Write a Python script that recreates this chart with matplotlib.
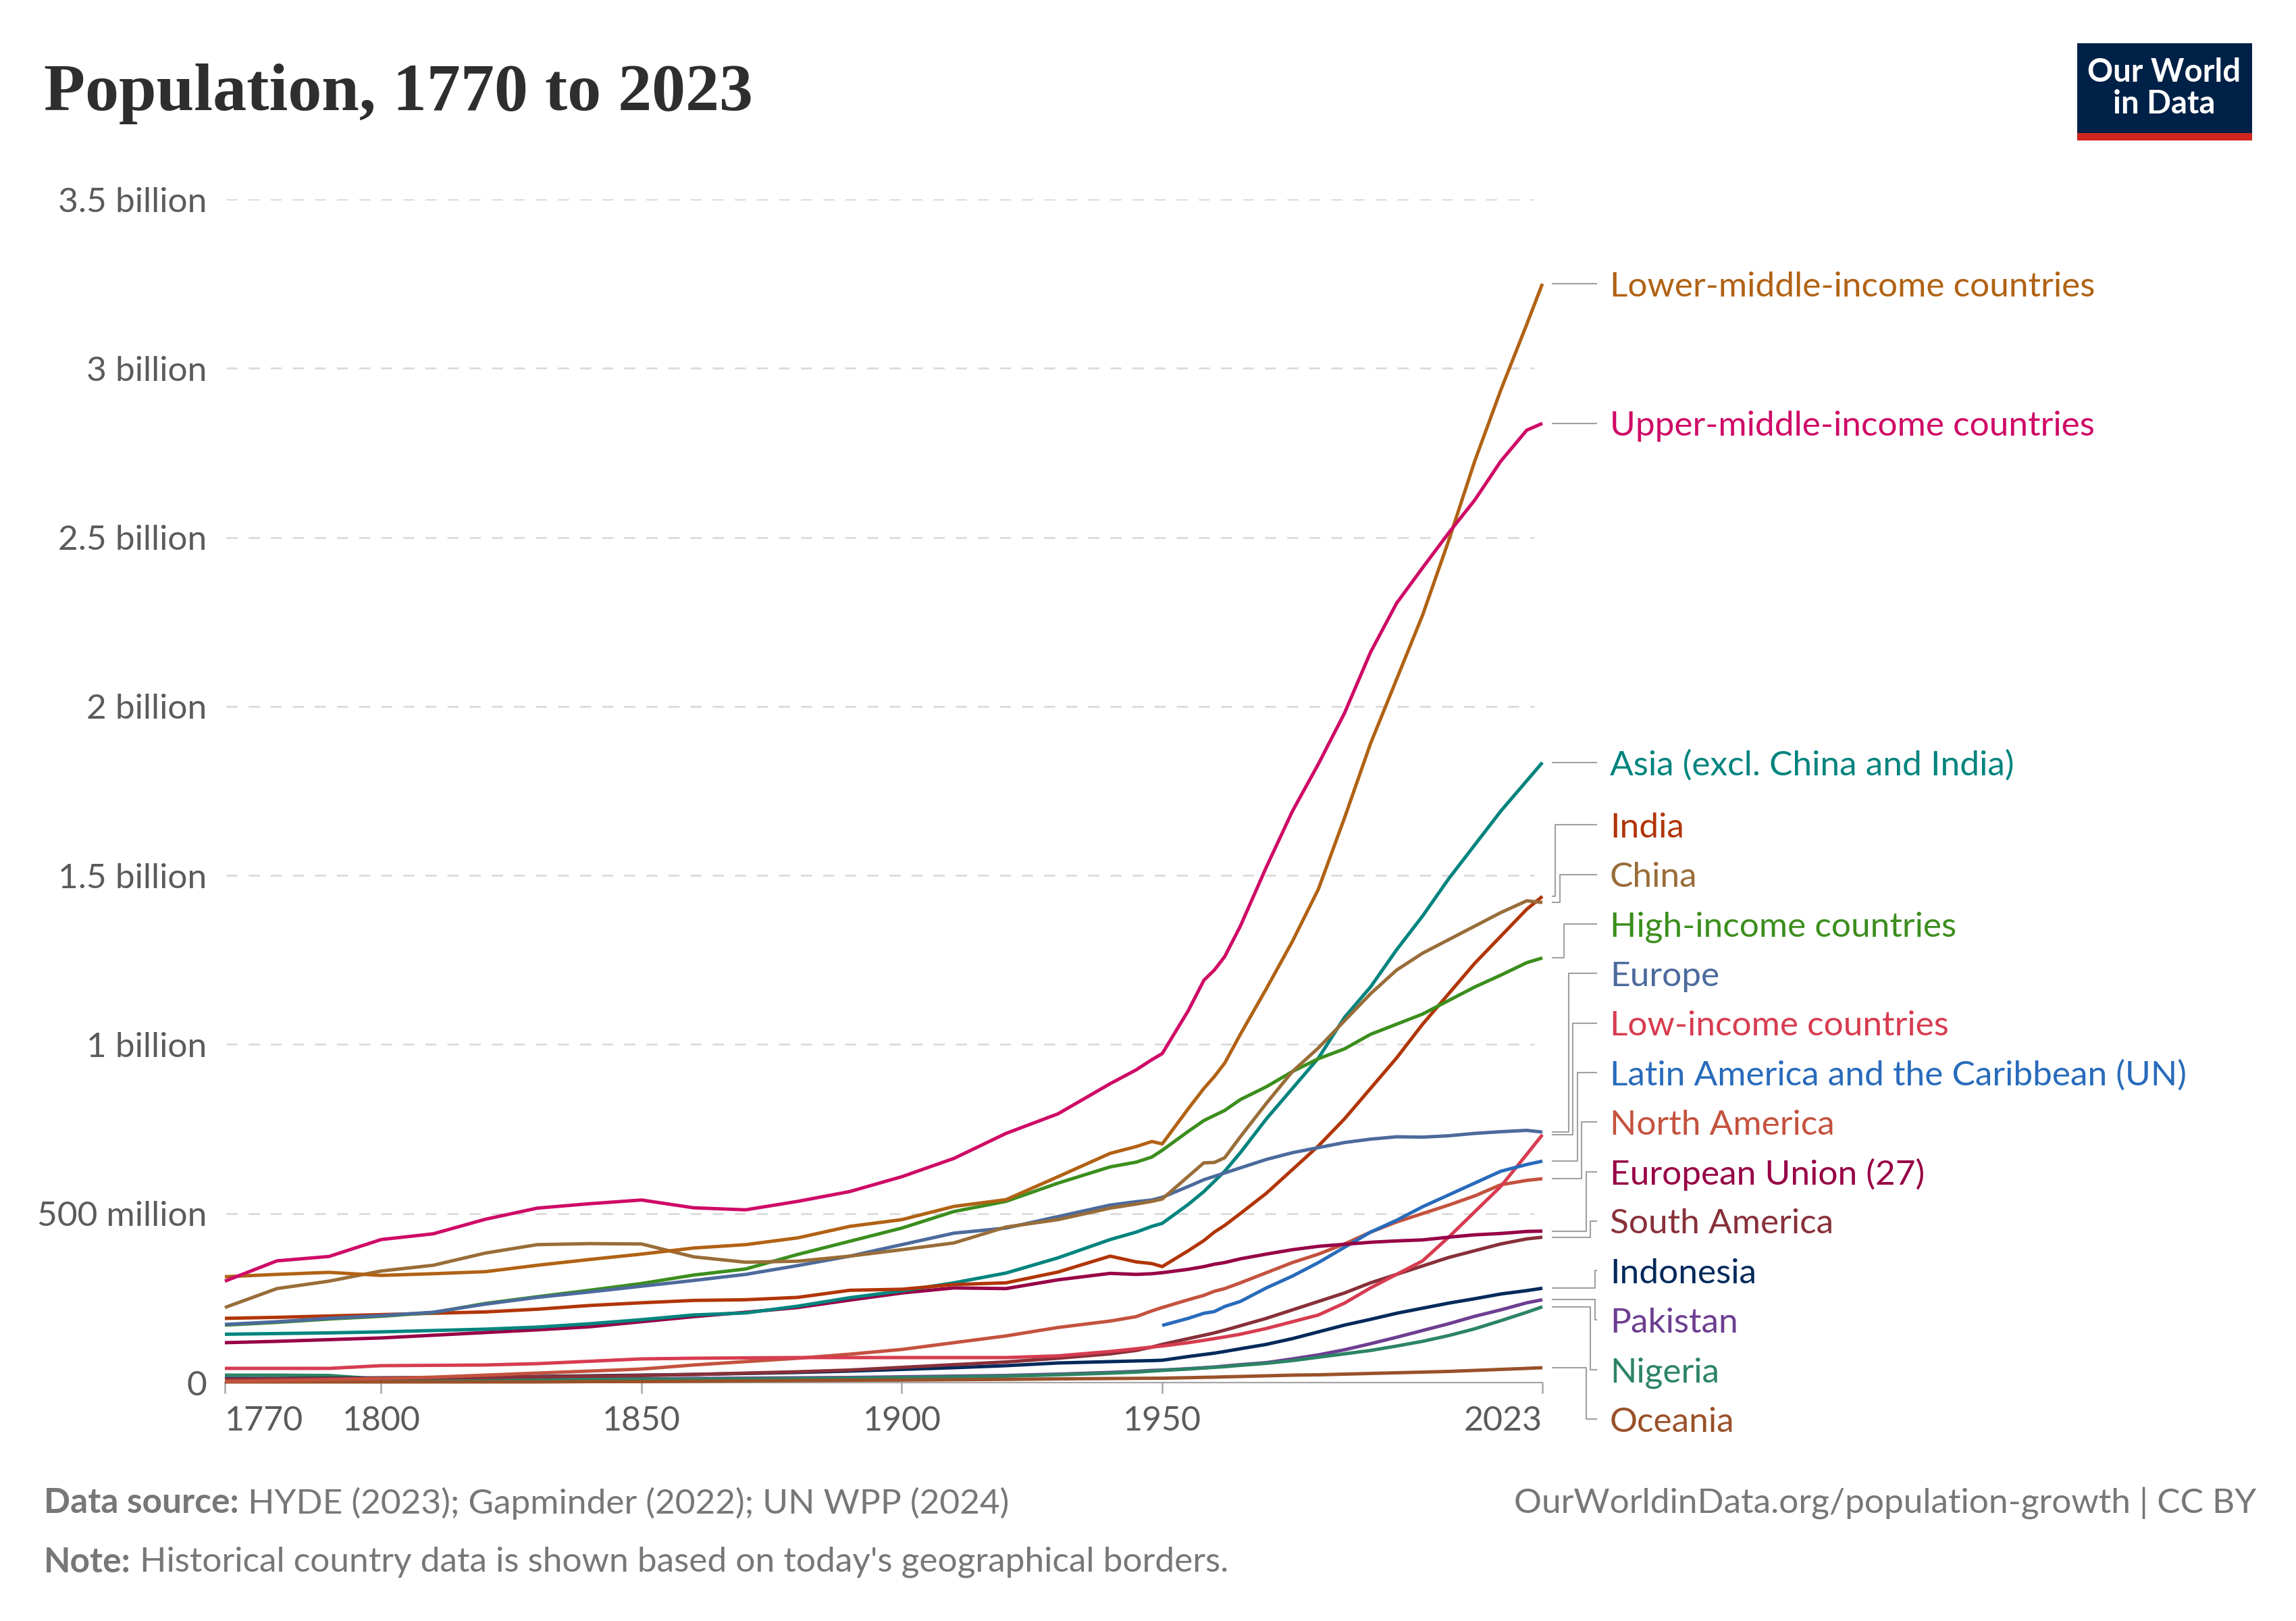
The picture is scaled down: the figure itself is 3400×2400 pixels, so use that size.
import numpy as np
import matplotlib.pyplot as plt
from matplotlib.patches import Rectangle
from matplotlib.transforms import blended_transform_factory

# population in billions
years = [1770, 1780, 1790, 1800, 1810, 1820, 1830, 1840, 1850, 1860, 1870, 1880, 1890,
         1900, 1910, 1920, 1930, 1940, 1945, 1948, 1950, 1955, 1958, 1960, 1962, 1965,
         1970, 1975, 1980, 1985, 1990, 1995, 2000, 2005, 2010, 2015, 2020, 2023]

lower_middle = [.313, .320, .326, .317, .322, .328, .347, .364, .380, .398, .408, .428, .462,
                .482, .521, .541, .609, .678, .698, .713, .706, .81, .87, .905, .945, 1.03,
                1.165, 1.305, 1.46, 1.67, 1.89, 2.08, 2.27, 2.49, 2.725, 2.935, 3.13, 3.25]
upper_middle = [.300, .360, .373, .423, .440, .483, .516, .529, .540, .517, .511, .536, .565,
                .609, .663, .737, .795, .884, .925, .955, .973, 1.10, 1.19, 1.22, 1.26, 1.35,
                1.525, 1.69, 1.83, 1.98, 2.16, 2.305, 2.41, 2.513, 2.61, 2.725, 2.817, 2.837]
asia_excl = [.143, .145, .147, .150, .154, .158, .164, .174, .186, .200, .206, .226, .251,
             .271, .295, .324, .369, .423, .445, .462, .471, .527, .565, .595, .625, .68,
             .78, .87, .96, 1.08, 1.17, 1.28, 1.38, 1.49, 1.59, 1.69, 1.78, 1.834]
india = [.190, .193, .197, .201, .205, .209, .217, .228, .236, .243, .245, .252, .273,
         .276, .290, .295, .327, .374, .357, .352, .343, .39, .42, .445, .465, .50,
         .56, .63, .70, .78, .87, .96, 1.06, 1.15, 1.24, 1.32, 1.40, 1.438]
china = [.222, .278, .300, .330, .347, .383, .408, .411, .410, .372, .356, .359, .374,
         .393, .413, .460, .482, .516, .528, .536, .543, .61, .65, .651, .665, .727,
         .826, .92, .99, 1.07, 1.15, 1.22, 1.27, 1.31, 1.35, 1.39, 1.425, 1.42]
high_income = [.170, .178, .188, .196, .207, .234, .254, .273, .293, .318, .336, .379, .418,
               .457, .506, .536, .590, .638, .652, .667, .687, .743, .775, .79, .805, .837,
               .875, .92, .958, .987, 1.03, 1.06, 1.09, 1.13, 1.17, 1.205, 1.242, 1.256]
europe = [.172, .180, .190, .198, .208, .232, .252, .268, .285, .302, .320, .346, .374,
          .408, .442, .457, .491, .525, .535, .540, .548, .58, .60, .61, .62, .635,
          .66, .68, .695, .71, .72, .727, .726, .73, .737, .742, .746, .741]
low_income = [.042, .042, .042, .050, .051, .052, .056, .063, .070, .072, .073, .074, .074,
              .074, .074, .074, .079, .092, .100, .105, .108, .118, .125, .13, .135, .143,
              .16, .18, .20, .235, .28, .32, .36, .43, .505, .58, .675, .733]
latin_america = [np.nan] * 20 + [.169, .19, .205, .21, .225, .24,
                                 .28, .315, .355, .40, .445, .48, .52, .555, .59, .625, .645, .655]
north_america = [.004, .006, .009, .012, .016, .022, .028, .034, .040, .052, .062, .072, .084,
                 .098, .118, .138, .163, .182, .195, .212, .222, .245, .258, .27, .278, .295,
                 .325, .355, .38, .41, .445, .475, .50, .525, .552, .585, .598, .603]
eu27 = [.118, .122, .127, .132, .140, .148, .156, .165, .180, .195, .208, .222, .244,
        .265, .280, .278, .304, .323, .320, .322, .325, .335, .343, .35, .355, .366,
        .38, .393, .403, .409, .415, .419, .422, .43, .437, .441, .447, .448]
south_america = [.010, .011, .012, .013, .014, .015, .017, .019, .021, .024, .028, .032, .037,
                 .045, .053, .061, .072, .085, .095, .105, .113, .13, .14, .147, .155, .168,
                 .19, .215, .24, .265, .295, .32, .345, .37, .39, .41, .425, .43]
indonesia = [.012, .012, .013, .014, .015, .016, .018, .020, .022, .024, .027, .030, .034,
             .039, .044, .050, .058, .062, .064, .065, .066, .077, .083, .087, .092, .10,
             .113, .13, .15, .17, .187, .205, .22, .235, .248, .262, .272, .279]
pakistan = [.008, .008, .009, .009, .009, .010, .010, .011, .011, .012, .013, .014, .015,
            .017, .019, .021, .025, .030, .033, .036, .037, .041, .044, .046, .049, .053,
            .059, .07, .082, .097, .115, .134, .154, .174, .196, .215, .236, .245]
nigeria = [.022, .022, .021, .010, .010, .010, .010, .010, .010, .010, .011, .012, .013,
           .015, .017, .019, .023, .028, .031, .034, .036, .040, .043, .045, .047, .051,
           .057, .065, .075, .085, .095, .108, .122, .139, .159, .183, .208, .224]
oceania = [.002, .002, .002, .002, .002, .002, .002, .003, .003, .004, .005, .006, .007,
           .0075, .0085, .0095, .011, .012, .0125, .0128, .013, .0145, .0155, .016, .017, .018,
           .020, .022, .023, .025, .027, .029, .031, .033, .036, .039, .042, .044]

# drawing order: first entry is drawn underneath
series = [
    ("Pakistan", pakistan, "#6D3E91"),
    ("Nigeria", nigeria, "#2C8465"),
    ("Oceania", oceania, "#9A5129"),
    ("Indonesia", indonesia, "#00295B"),
    ("South America", south_america, "#883039"),
    ("North America", north_america, "#C4523E"),
    ("Low-income countries", low_income, "#D73C50"),
    ("Latin America and the Caribbean (UN)", latin_america, "#286BBB"),
    ("European Union (27)", eu27, "#970046"),
    ("Asia (excl. China and India)", asia_excl, "#00847E"),
    ("India", india, "#B13507"),
    ("High-income countries", high_income, "#3B8E1D"),
    ("Europe", europe, "#4C6A9C"),
    ("China", china, "#996D39"),
    ("Lower-middle-income countries", lower_middle, "#B16214"),
    ("Upper-middle-income countries", upper_middle, "#CF0A66"),
]

y_ticks = [0, 0.5, 1, 1.5, 2, 2.5, 3, 3.5]
y_tick_labels = ["0", "500 million", "1 billion", "1.5 billion", "2 billion",
                 "2.5 billion", "3 billion", "3.5 billion"]
x_ticks = [1770, 1800, 1850, 1900, 1950, 2023]

plt.rcParams['font.family'] = ['Lato', 'DejaVu Sans']

W, H, DPI = 3400, 2400, 100
fig = plt.figure(figsize=(W / DPI, H / DPI), dpi=DPI)
fig.patch.set_facecolor('white')

left, right, bottom, top = 333, 2284, 2047, 295
ax = fig.add_axes([left / W, 1 - bottom / H, (right - left) / W, (bottom - top) / H])
ax.set_xlim(1770, 2023)
ax.set_ylim(0, 3.5)
for s in ax.spines.values():
    s.set_visible(False)

# grid
for t in y_ticks[1:]:
    ax.axhline(t, xmin=0.001, xmax=0.994, color='#d9d9d9', lw=1.9,
               linestyle=(0, (6.2, 6.2)), zorder=0)
ax.axhline(0, color='#a6a6a6', lw=1.6, zorder=1, clip_on=False)

ax.set_yticks(y_ticks)
ax.set_yticklabels(y_tick_labels)
ax.tick_params(axis='y', length=0, pad=19, labelsize=37, labelcolor='#5b5b5b')
ax.set_xticks(x_ticks)
ax.set_xticklabels([str(x) for x in x_ticks])
ax.tick_params(axis='x', length=11.5, width=1.8, color='#a6a6a6', pad=13,
               labelsize=36, labelcolor='#5b5b5b')
xl = ax.get_xticklabels()
xl[0].set_ha('left')
xl[-1].set_ha('right')

for name, vals, col in series:
    ax.plot(years, vals, color=col, lw=3.6, solid_joinstyle='round',
            solid_capstyle='butt', clip_on=False, zorder=2)

# end labels with simple dodge
px_per_unit = (bottom - top) / 3.5
gap = 73.3 / px_per_unit
floor = -54 / px_per_unit
ends = sorted([(vals[-1], name, col) for name, vals, col in series], reverse=True)
pos = [e[0] for e in ends]
for i in range(1, len(pos)):
    pos[i] = min(pos[i], pos[i - 1] - gap)
pos[-1] = max(pos[-1], floor)
for i in range(len(pos) - 2, -1, -1):
    pos[i] = max(pos[i], pos[i + 1] + gap)

axw = right - left
tr = blended_transform_factory(ax.transAxes, ax.transData)
up = [i for i in range(len(ends)) if pos[i] - ends[i][0] > 1e-4]
down = [i for i in range(len(ends)) if ends[i][0] - pos[i] > 1e-4]
for i, (v, name, col) in enumerate(ends):
    x0 = 1 + 15 / axw
    x1 = 1 + 80 / axw
    if i in up:
        rank = up.index(i)
    elif i in down:
        rank = len(up) - 1 - down.index(i)
    else:
        rank = None
    if rank is None:
        xs, ys = [x0, x1], [v, v]
    else:
        xe = 1 + (19 + 6.5 * rank) / axw
        xs, ys = [x0, xe, xe, x1], [v, v, pos[i], pos[i]]
    ax.plot(xs, ys, color='#a0a0a0', lw=1.5, transform=tr, clip_on=False, zorder=1)
    ax.text(1 + 100 / axw, pos[i], name, color=col, fontsize=37, transform=tr,
            va='center_baseline', ha='left')

# title
fig.text(65 / W, 1 - 163 / H, "Population, 1770 to 2023", fontsize=72, fontweight='bold',
         family=['Liberation Serif', 'DejaVu Serif'], color='#2e2e2e', va='baseline')

# logo
fig.add_artist(Rectangle((3076 / W, 1 - 197 / H), 259 / W, 133 / H,
                         transform=fig.transFigure, color='#002147', lw=0))
fig.add_artist(Rectangle((3076 / W, 1 - 208 / H), 259 / W, 11 / H,
                         transform=fig.transFigure, color='#CE261E', lw=0))
fig.text(3205 / W, 1 - 107 / H, "Our World", color='white', fontsize=34, fontweight='bold',
         ha='center', va='center')
fig.text(3205 / W, 1 - 154 / H, "in Data", color='white', fontsize=34, fontweight='bold',
         ha='center', va='center')

# footer
grey = '#777777'
fs = 37
r = fig.canvas.get_renderer()
t1 = fig.text(65 / W, 1 - 2226 / H, "Data source:", fontsize=fs, fontweight='bold',
              color=grey, va='center')
bb = t1.get_window_extent(renderer=r)
fig.text(bb.x1 / W, 1 - 2226 / H, " HYDE (2023); Gapminder (2022); UN WPP (2024)",
         fontsize=fs, color=grey, va='center')
t2 = fig.text(65 / W, 1 - 2313 / H, "Note:", fontsize=fs, fontweight='bold',
              color=grey, va='center')
bb = t2.get_window_extent(renderer=r)
fig.text(bb.x1 / W, 1 - 2313 / H, " Historical country data is shown based on today's geographical borders.",
         fontsize=fs, color=grey, va='center')
fig.text(3341 / W, 1 - 2226 / H, "OurWorldinData.org/population-growth | CC BY",
         fontsize=fs, color=grey, va='center', ha='right')

fig.savefig("out.png", dpi=DPI, facecolor='white')
